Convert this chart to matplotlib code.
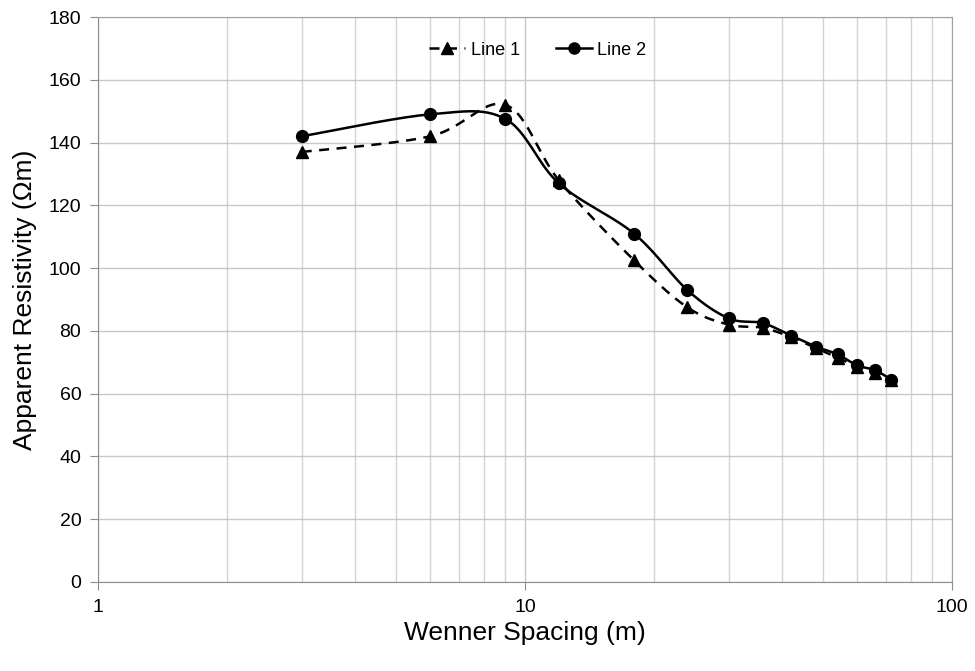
import matplotlib.pyplot as plt
import numpy as np

plt.rcParams['font.family'] = ['Liberation Sans', 'DejaVu Sans']

# Wenner array spacing (m)
spacing = [3, 6, 9, 12, 18, 24, 30, 36, 42, 48, 54, 60, 66, 72]

# Apparent resistivity (ohm-m)
line1 = [137, 142, 152, 128, 102.5, 87.5, 82, 81, 78, 74.5, 71.5, 68.5, 66.5, 64.5]
line2 = [142, 149, 147.5, 127, 111, 93, 84, 82.5, 78.5, 75, 72.5, 69, 67.5, 64.5]


def smooth(xs, ys, n=30):
    # Catmull-Rom curve through the points, worked out in log-x space
    px = np.log10(np.asarray(xs, float))
    py = np.asarray(ys, float)
    px = np.concatenate([[px[0]], px, [px[-1]]])
    py = np.concatenate([[py[0]], py, [py[-1]]])
    out_x, out_y = [], []
    t = np.linspace(0, 1, n)
    for i in range(1, len(px) - 2):
        p0, p1, p2, p3 = (np.array([px[j], py[j]]) for j in range(i - 1, i + 3))
        c1 = p1 + (p2 - p0) / 6
        c2 = p2 - (p3 - p1) / 6
        b = ((1 - t) ** 3)[:, None] * p1 + (3 * (1 - t) ** 2 * t)[:, None] * c1 \
            + (3 * (1 - t) * t ** 2)[:, None] * c2 + (t ** 3)[:, None] * p2
        out_x.extend(b[:, 0])
        out_y.extend(b[:, 1])
    return 10 ** np.array(out_x), np.array(out_y)


fig = plt.figure(figsize=(9.75, 6.71), dpi=100)
ax = fig.add_axes([98 / 975, 1 - 582 / 671, (952 - 98) / 975, (582 - 17) / 671])

sx, sy = smooth(spacing, line1)
ax.plot(sx, sy, color='black', linestyle=(0, (4, 3)), linewidth=1.8)
ax.plot(spacing, line1, linestyle='none', marker='^', color='black', markersize=8)
sx, sy = smooth(spacing, line2)
ax.plot(sx, sy, color='black', linewidth=1.8)
ax.plot(spacing, line2, linestyle='none', marker='o', color='black', markersize=8.5)

# legend proxies
ax.plot([], [], color='black', linestyle=(0, (4, 3)), linewidth=1.8, marker='^',
        markersize=8, label='Line 1')
ax.plot([], [], color='black', linewidth=1.8, marker='o', markersize=8, label='Line 2')
ax.legend(loc='upper center', bbox_to_anchor=(0.515, 0.985), ncol=2, frameon=False,
          fontsize=13, handlelength=2.0, handletextpad=0.3, columnspacing=2.0)

ax.set_xscale('log')
ax.set_xlim(1, 100)
ax.set_ylim(0, 180)
ax.set_yticks(np.arange(0, 181, 20))
ax.set_xticks([1, 10, 100])
ax.set_xticklabels(['1', '10', '100'])
ax.grid(True, which='major', color='#c8c8c8', linewidth=1.0)
ax.grid(True, which='minor', axis='x', color='#d4d4d4', linewidth=1.0)
ax.tick_params(which='minor', length=0)
ax.tick_params(which='major', length=6, color='#8c8c8c', labelsize=14, pad=6)
for s in ax.spines.values():
    s.set_color('#a0a0a0')
ax.spines['left'].set_color('#8c8c8c')
ax.spines['bottom'].set_color('#8c8c8c')

ax.set_xlabel('Wenner Spacing (m)', fontsize=19, labelpad=4)
ax.set_ylabel('Apparent Resistivity (Ωm)', fontsize=19, labelpad=8)

fig.savefig('out.png', dpi=100)
